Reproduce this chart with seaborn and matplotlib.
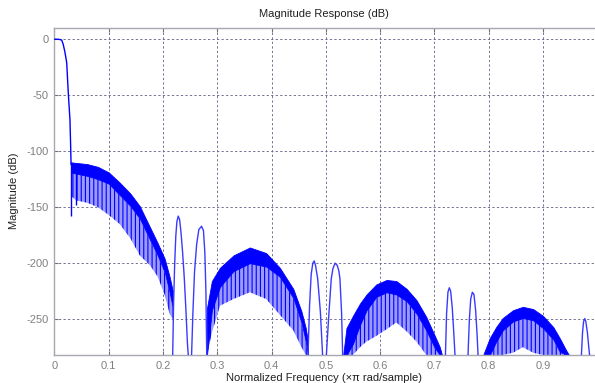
import matplotlib
matplotlib.use("Agg")
import matplotlib.pyplot as plt
import seaborn as sns
import pandas as pd

# ---- data ----
pass_x = [0.000, 0.006, 0.010, 0.0133, 0.016, 0.019, 0.0225, 0.0254, 0.0285, 0.0300, 0.0305]
pass_y = [0.0, -0.05, -0.3, -0.8, -4.5, -11, -21, -48, -72, -100, -112]

# dense side-lobe groups: upper envelope, lower edge of solid band, lower ends of stripes
lobe1_x   = [0.0305, 0.040, 0.060, 0.080, 0.100, 0.120, 0.140, 0.157, 0.176, 0.190, 0.203, 0.212, 0.218]
lobe1_top = [-110, -110.5, -111.5, -114, -119, -128, -138, -149, -168, -182, -196, -212, -225]
lobe1_mid = [-119, -120, -122, -125, -129, -139, -149, -160, -179, -193, -208, -226, -240]
lobe1_low = [-140, -144, -146, -150, -157, -165, -178, -193, -202, -212, -228, -245, -250]

lobe2_x   = [0.281, 0.290, 0.305, 0.330, 0.360, 0.390, 0.415, 0.440, 0.455, 0.463, 0.467]
lobe2_top = [-240, -216, -204, -193, -186, -191, -204, -223, -243, -258, -270]
lobe2_mid = [-282, -242, -221, -207, -200, -203, -212, -231, -253, -270, -282]
lobe2_low = [-282, -262, -238, -232, -226, -232, -246, -260, -275, -282, -282]

lobe3_x   = [0.532, 0.538, 0.550, 0.563, 0.575, 0.593, 0.612, 0.630, 0.649, 0.667, 0.685, 0.700, 0.710, 0.714]
lobe3_top = [-282, -258, -247, -236, -228, -219, -215, -216, -223, -233, -248, -264, -275, -282]
lobe3_mid = [-282, -282, -272, -255, -242, -230, -226, -228, -234, -245, -260, -275, -282, -282]
lobe3_low = [-282, -282, -282, -275, -270, -265, -259, -253, -261, -270, -282, -282, -282, -282]

lobe4_x   = [0.790, 0.802, 0.814, 0.826, 0.845, 0.863, 0.882, 0.900, 0.919, 0.931, 0.943, 0.948]
lobe4_top = [-282, -267, -257, -249, -242, -239, -241, -247, -257, -267, -278, -282]
lobe4_mid = [-282, -282, -270, -260, -252, -249, -251, -258, -268, -279, -282, -282]
lobe4_low = [-282, -282, -282, -282, -280, -275, -280, -282, -282, -282, -282, -282]

spike_x   = [0.0305, 0.040]
spike_low = [-158, -148]

# isolated side lobes
iso1_x = [0.2178, 0.2195, 0.2215, 0.2235, 0.2255, 0.2280, 0.2305, 0.2330, 0.2360, 0.2390, 0.2420, 0.2450, 0.2465]
iso1_y = [-282, -235, -200, -176, -163, -158, -161, -172, -190, -212, -240, -272, -282]
iso2_x = [0.2526, 0.2550, 0.2580, 0.2620, 0.2660, 0.2710, 0.2745, 0.2770, 0.2790, 0.2805]
iso2_y = [-282, -245, -208, -183, -170, -167, -171, -190, -225, -282]
iso3_x = [0.4672, 0.4700, 0.4730, 0.4760, 0.4785, 0.4810, 0.4850, 0.4900, 0.4940]
iso3_y = [-282, -238, -210, -200, -198, -202, -214, -244, -282]
iso4_x = [0.5010, 0.5050, 0.5100, 0.5130, 0.5170, 0.5210, 0.5240, 0.5260, 0.5290, 0.5310]
iso4_y = [-282, -250, -214, -205, -200, -202, -207, -214, -244, -282]
iso5_x = [0.7204, 0.7225, 0.7250, 0.7275, 0.7300, 0.7330, 0.7355, 0.7380]
iso5_y = [-282, -245, -226, -222, -225, -240, -260, -282]
iso6_x = [0.7620, 0.7645, 0.7670, 0.7700, 0.7730, 0.7760, 0.7785, 0.7805]
iso6_y = [-282, -250, -232, -226, -228, -242, -262, -282]
iso7_x = [0.9710, 0.9730, 0.9750, 0.9770, 0.9790, 0.9820, 0.9845, 0.9860]
iso7_y = [-282, -262, -252, -249.5, -252, -262, -275, -282]

x_ticks = [0, 0.1, 0.2, 0.3, 0.4, 0.5, 0.6, 0.7, 0.8, 0.9]
x_tick_labels = ["0", "0.1", "0.2", "0.3", "0.4", "0.5", "0.6", "0.7", "0.8", "0.9"]
y_ticks = [0, -50, -100, -150, -200, -250]
y_tick_labels = ["0", "-50", "-100", "-150", "-200", "-250"]

title_text = "Magnitude Response (dB)"
x_label = "Normalized Frequency (\u00d7\u03c0 rad/sample)"
y_label = "Magnitude (dB)"

# ---- style ----
sns.set_theme(style="white")
plt.rcParams["font.family"] = ["Liberation Sans", "DejaVu Sans"]
plt.rcParams["hatch.linewidth"] = 0.8

fig = plt.figure(figsize=(5.95, 3.83), dpi=100)
ax = fig.add_axes([54.5 / 595, 1 - 355.3 / 383, 1 - 54.5 / 595, (355.3 - 28) / 383])

BLUE = "#0000ff"
LIGHT = "#9a9aff"

line_sets = [(pass_x, pass_y), (iso1_x, iso1_y), (iso2_x, iso2_y), (iso3_x, iso3_y),
             (iso4_x, iso4_y), (iso5_x, iso5_y), (iso6_x, iso6_y), (iso7_x, iso7_y)]
for i, (lx, ly) in enumerate(line_sets):
    df = pd.DataFrame({"f": lx, "m": ly})
    sns.lineplot(data=df, x="f", y="m", ax=ax, color=BLUE if i == 0 else "#3a3aff",
                 linewidth=1.0, sort=False, estimator=None, zorder=3)

lobes = [(lobe1_x, lobe1_top, lobe1_mid, lobe1_low),
         (lobe2_x, lobe2_top, lobe2_mid, lobe2_low),
         (lobe3_x, lobe3_top, lobe3_mid, lobe3_low),
         (lobe4_x, lobe4_top, lobe4_mid, lobe4_low)]
for lx, lt, lm, ll in lobes:
    ax.fill_between(lx, ll, lm, facecolor=LIGHT, edgecolor=BLUE, hatch="||||",
                    linewidth=0, zorder=2)
    ax.fill_between(lx, lm, lt, facecolor=BLUE, edgecolor=BLUE, linewidth=0.6, zorder=2.5)

ax.vlines(spike_x, spike_low, [lobe1_top[0], lobe1_top[1]], color=BLUE, linewidth=1.0, zorder=3)

ax.set_xlim(0, 0.996)
ax.set_ylim(-282.3, 10)
ax.set_xticks(x_ticks)
ax.set_xticklabels(x_tick_labels)
ax.set_yticks(y_ticks)
ax.set_yticklabels(y_tick_labels)
ax.set_xlabel("")
ax.set_ylabel("")

ax.grid(True, color="#6a6a8c", linestyle=(0, (2.5, 2.5)), linewidth=0.65)
ax.set_axisbelow(True)

for s in ["left", "bottom", "top"]:
    ax.spines[s].set_visible(True)
    ax.spines[s].set_color("#a8a8b0")
    ax.spines[s].set_linewidth(1.0)
ax.spines["right"].set_visible(False)

ax.tick_params(axis="both", direction="in", length=3, width=0.8, color="#707070",
               labelcolor="#808080", labelsize=8, top=True, bottom=True, left=True, pad=4)

fig.text(323.5 / 595, 1 - 14 / 383, title_text, ha="center", va="center", fontsize=8, color="#202020")
fig.text(323.5 / 595, 1 - 378 / 383, x_label, ha="center", va="center", fontsize=8, color="#202020")
fig.text(14 / 595, 1 - 191 / 383, y_label, ha="center", va="center", rotation=90, fontsize=8, color="#202020")

fig.savefig("out.png", dpi=100)
